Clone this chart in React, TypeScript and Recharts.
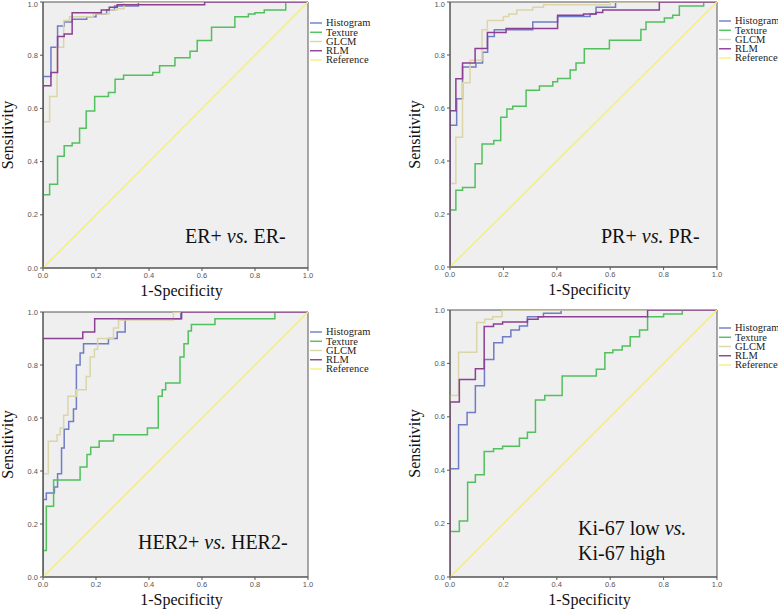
import React from 'react';
import { LineChart, Line, XAxis, YAxis, ReferenceArea, Legend } from 'recharts';

type Pair = [number, number];

const axisTicks = [0, 0.2, 0.4, 0.6, 0.8, 1.0];
const seriesNames = ['Histogram', 'Texture', 'GLCM', 'RLM', 'Reference'];
const seriesColors = ['#6f7cc6', '#50c15d', '#dcd5a9', '#8c3f93', '#f4ef7a'];
const referenceDiagonal: Pair[] = [[0, 0], [1, 1]];

// ER+ vs ER-
const erHistogram: Pair[] = [[0, 0], [0, 0.72], [0.03, 0.83], [0.055, 0.91], [0.08, 0.925], [0.11, 0.935], [0.165, 0.945], [0.2, 0.955], [0.24, 0.97], [0.27, 0.985], [0.36, 1], [1, 1]];
const erTexture: Pair[] = [[0, 0], [0, 0.275], [0.025, 0.315], [0.055, 0.42], [0.08, 0.46], [0.11, 0.47], [0.138, 0.525], [0.163, 0.59], [0.195, 0.645], [0.247, 0.66], [0.272, 0.71], [0.304, 0.725], [0.414, 0.735], [0.44, 0.76], [0.498, 0.79], [0.555, 0.815], [0.582, 0.855], [0.636, 0.905], [0.724, 0.945], [0.775, 0.955], [0.8, 0.96], [0.835, 0.97], [0.916, 1], [1, 1]];
const erGlcm: Pair[] = [[0, 0], [0, 0.55], [0.025, 0.645], [0.053, 0.83], [0.078, 0.93], [0.1, 0.945], [0.19, 0.955], [0.25, 0.97], [0.28, 0.975], [0.306, 1], [1, 1]];
const erRlm: Pair[] = [[0, 0], [0, 0.685], [0.03, 0.735], [0.055, 0.87], [0.08, 0.88], [0.11, 0.96], [0.22, 0.97], [0.25, 0.98], [0.28, 0.99], [0.61, 1], [1, 1]];

// PR+ vs PR-
const prHistogram: Pair[] = [[0, 0], [0, 0.535], [0.025, 0.635], [0.047, 0.755], [0.097, 0.77], [0.122, 0.81], [0.141, 0.87], [0.166, 0.895], [0.31, 0.925], [0.403, 0.945], [0.525, 0.955], [0.547, 0.98], [0.62, 1], [1, 1]];
const prTexture: Pair[] = [[0, 0], [0, 0.215], [0.022, 0.29], [0.047, 0.3], [0.094, 0.39], [0.12, 0.464], [0.164, 0.477], [0.19, 0.565], [0.213, 0.596], [0.235, 0.607], [0.285, 0.667], [0.335, 0.683], [0.385, 0.699], [0.403, 0.711], [0.45, 0.743], [0.472, 0.77], [0.503, 0.824], [0.597, 0.856], [0.715, 0.896], [0.734, 0.925], [0.803, 0.94], [0.834, 0.95], [0.859, 0.985], [0.95, 1], [1, 1]];
const prGlcm: Pair[] = [[0, 0], [0, 0.315], [0.022, 0.49], [0.047, 0.695], [0.075, 0.78], [0.12, 0.895], [0.14, 0.93], [0.2, 0.945], [0.22, 0.955], [0.25, 0.97], [0.31, 0.98], [0.35, 0.99], [0.6, 1], [1, 1]];
const prRlm: Pair[] = [[0, 0], [0, 0.59], [0.022, 0.71], [0.047, 0.77], [0.094, 0.825], [0.14, 0.885], [0.21, 0.9], [0.403, 0.95], [0.5, 0.955], [0.547, 0.96], [0.572, 0.97], [0.784, 1], [1, 1]];

// HER2+ vs HER2-
const herHistogram: Pair[] = [[0, 0], [0, 0.292], [0.0125, 0.317], [0.043, 0.34], [0.055, 0.39], [0.07, 0.487], [0.08, 0.558], [0.097, 0.587], [0.115, 0.634], [0.126, 0.8], [0.14, 0.845], [0.153, 0.88], [0.247, 0.9], [0.28, 0.925], [0.31, 0.975], [0.52, 1], [1, 1]];
const herTexture: Pair[] = [[0, 0], [0, 0.1], [0.0125, 0.267], [0.04, 0.366], [0.14, 0.415], [0.166, 0.462], [0.18, 0.49], [0.212, 0.513], [0.266, 0.537], [0.394, 0.562], [0.435, 0.682], [0.45, 0.707], [0.463, 0.732], [0.517, 0.83], [0.532, 0.88], [0.548, 0.928], [0.56, 0.953], [0.649, 0.975], [0.875, 1], [1, 1]];
const herGlcm: Pair[] = [[0, 0], [0, 0.39], [0.02, 0.512], [0.053, 0.537], [0.065, 0.562], [0.078, 0.61], [0.094, 0.682], [0.126, 0.707], [0.163, 0.757], [0.178, 0.83], [0.194, 0.859], [0.206, 0.9], [0.266, 0.94], [0.285, 0.97], [0.492, 1], [1, 1]];
const herRlm: Pair[] = [[0, 0], [0, 0.9], [0.15, 0.925], [0.195, 0.975], [0.523, 1], [1, 1]];

// Ki-67 low vs high
const kiHistogram: Pair[] = [[0, 0], [0, 0.405], [0.032, 0.57], [0.064, 0.616], [0.095, 0.716], [0.129, 0.815], [0.164, 0.877], [0.197, 0.9], [0.228, 0.925], [0.26, 0.94], [0.29, 0.975], [0.35, 0.988], [0.416, 1], [1, 1]];
const kiTexture: Pair[] = [[0, 0], [0, 0.17], [0.035, 0.21], [0.066, 0.355], [0.095, 0.383], [0.128, 0.47], [0.163, 0.48], [0.197, 0.49], [0.26, 0.52], [0.29, 0.542], [0.32, 0.663], [0.355, 0.68], [0.42, 0.753], [0.548, 0.778], [0.58, 0.84], [0.61, 0.85], [0.645, 0.865], [0.675, 0.9], [0.71, 0.925], [0.74, 0.975], [0.8, 0.985], [0.87, 1], [1, 1]];
const kiGlcm: Pair[] = [[0, 0], [0, 0.68], [0.032, 0.842], [0.1, 0.953], [0.13, 0.965], [0.16, 0.975], [0.195, 1], [1, 1]];
const kiRlm: Pair[] = [[0, 0], [0, 0.655], [0.035, 0.74], [0.095, 0.78], [0.128, 0.938], [0.163, 0.948], [0.197, 0.955], [0.29, 0.965], [0.33, 0.975], [0.74, 1], [1, 1]];

const serif = '"Liberation Serif", "Times New Roman", serif';
const sans = '"Liberation Sans", Arial, sans-serif';

const toPoints = (pairs: Pair[]) => pairs.map(([x, y]) => ({ x, y }));

// legend keeps the series order and colours (recharts sorts by name otherwise)
function RocLegend(props: any) {
  const items = [...(props.payload || [])]
    .map((p: any) => p.value as string)
    .sort((a, b) => seriesNames.indexOf(a) - seriesNames.indexOf(b));
  const rowH = 9.25;
  return (
    <svg width={90} height={50} style={{ display: 'block', overflow: 'visible' }}>
      {items.map((name, i) => {
        const y = 5 + i * rowH;
        return (
          <g key={name}>
            <line x1={0} x2={12} y1={y} y2={y} stroke={seriesColors[seriesNames.indexOf(name)]} strokeWidth={1.4} />
            <text x={16} y={y} dy="0.33em" fontFamily={serif} fontSize={10.5} fill="#222">
              {name}
            </text>
          </g>
        );
      })}
    </svg>
  );
}

const XTitle = (props: any) => {
  const vb = props.viewBox;
  return (
    <text x={vb.x + vb.width / 2 + 6} y={vb.y + 28} textAnchor="middle" fontFamily={serif} fontSize={16} fill="#111">
      1-Specificity
    </text>
  );
};

const YTitle = (props: any) => {
  const vb = props.viewBox;
  const cx = vb.x + vb.width - 36;
  const cy = vb.y + vb.height / 2;
  return (
    <text x={cx} y={cy} dy="0.35em" textAnchor="middle" transform={`rotate(-90 ${cx} ${cy})`} fontFamily={serif} fontSize={16} fill="#111">
      Sensitivity
    </text>
  );
};

interface PanelProps {
  left: number;
  top: number;
  width: number;
  height: number;
  margin: { top: number; right: number; bottom: number; left: number };
  curves: Pair[][];
  legendPos: { left: number; top: number };
  caption: React.ReactNode;
  captionPos: { left: number; top: number };
}

function RocPanel({ left, top, width, height, margin, curves, legendPos, caption, captionPos }: PanelProps) {
  const all = [...curves, referenceDiagonal];
  return (
    <div style={{ position: 'absolute', left, top, width, height }}>
      <LineChart width={width} height={height} margin={margin}>
        <XAxis
          dataKey="x"
          type="number"
          domain={[0, 1]}
          ticks={axisTicks}
          tickFormatter={(v: number) => v.toFixed(1)}
          tick={{ fontSize: 7.5, fill: '#555', fontFamily: sans }}
          tickSize={3}
          tickMargin={2}
          height={30}
          axisLine={{ stroke: '#555' }}
          tickLine={{ stroke: '#555' }}
          allowDataOverflow
          label={<XTitle />}
        />
        <YAxis
          dataKey="y"
          type="number"
          domain={[0, 1]}
          ticks={axisTicks}
          tickFormatter={(v: number) => v.toFixed(1)}
          tick={{ fontSize: 7.5, fill: '#555', fontFamily: sans }}
          tickSize={3}
          tickMargin={2}
          width={40}
          axisLine={{ stroke: '#555' }}
          tickLine={{ stroke: '#555' }}
          allowDataOverflow
          label={<YTitle />}
        />
        <ReferenceArea x1={0} x2={1} y1={0} y2={1} fill="#efefef" fillOpacity={1} stroke="#555" strokeWidth={1} />
        {all.map((pairs, i) => (
          <Line
            key={seriesNames[i]}
            name={seriesNames[i]}
            data={toPoints(pairs)}
            dataKey="y"
            type={i === 4 ? 'linear' : 'stepAfter'}
            stroke={seriesColors[i]}
            strokeWidth={1.5}
            dot={false}
            activeDot={false}
            isAnimationActive={false}
          />
        ))}
        <Legend
          layout="vertical"
          align="center"
          verticalAlign="middle"
          content={<RocLegend />}
          wrapperStyle={{ left: legendPos.left, top: legendPos.top, width: 90 }}
        />
      </LineChart>
      <div
        style={{
          position: 'absolute',
          left: captionPos.left,
          top: captionPos.top,
          fontFamily: serif,
          fontSize: 20,
          lineHeight: '25px',
          color: '#111',
          whiteSpace: 'nowrap',
        }}
      >
        {caption}
      </div>
    </div>
  );
}

export default function App() {
  return (
    <div style={{ position: 'absolute', left: 0, top: 0, width: 778, height: 610, background: '#fff', overflow: 'hidden' }}>
      <RocPanel
        left={0}
        top={0}
        width={390}
        height={300}
        margin={{ top: 2, right: 82, bottom: 2, left: 3 }}
        curves={[erHistogram, erTexture, erGlcm, erRlm]}
        legendPos={{ left: 310, top: 18 }}
        caption={<>ER+ <i>vs.</i> ER-</>}
        captionPos={{ left: 185, top: 224 }}
      />
      <RocPanel
        left={388}
        top={0}
        width={390}
        height={300}
        margin={{ top: 2, right: 61, bottom: 3, left: 22 }}
        curves={[prHistogram, prTexture, prGlcm, prRlm]}
        legendPos={{ left: 331, top: 16 }}
        caption={<>PR+ <i>vs.</i> PR-</>}
        captionPos={{ left: 213, top: 224 }}
      />
      <RocPanel
        left={0}
        top={300}
        width={390}
        height={310}
        margin={{ top: 12, right: 82, bottom: 3, left: 3 }}
        curves={[herHistogram, herTexture, herGlcm, herRlm]}
        legendPos={{ left: 310, top: 27 }}
        caption={<>HER2+ <i>vs.</i> HER2-</>}
        captionPos={{ left: 138, top: 230 }}
      />
      <RocPanel
        left={388}
        top={300}
        width={390}
        height={310}
        margin={{ top: 10, right: 61, bottom: 3, left: 22 }}
        curves={[kiHistogram, kiTexture, kiGlcm, kiRlm]}
        legendPos={{ left: 331, top: 23 }}
        caption={<>Ki-67 low <i>vs.</i><br />Ki-67 high</>}
        captionPos={{ left: 190, top: 216 }}
      />
    </div>
  );
}
